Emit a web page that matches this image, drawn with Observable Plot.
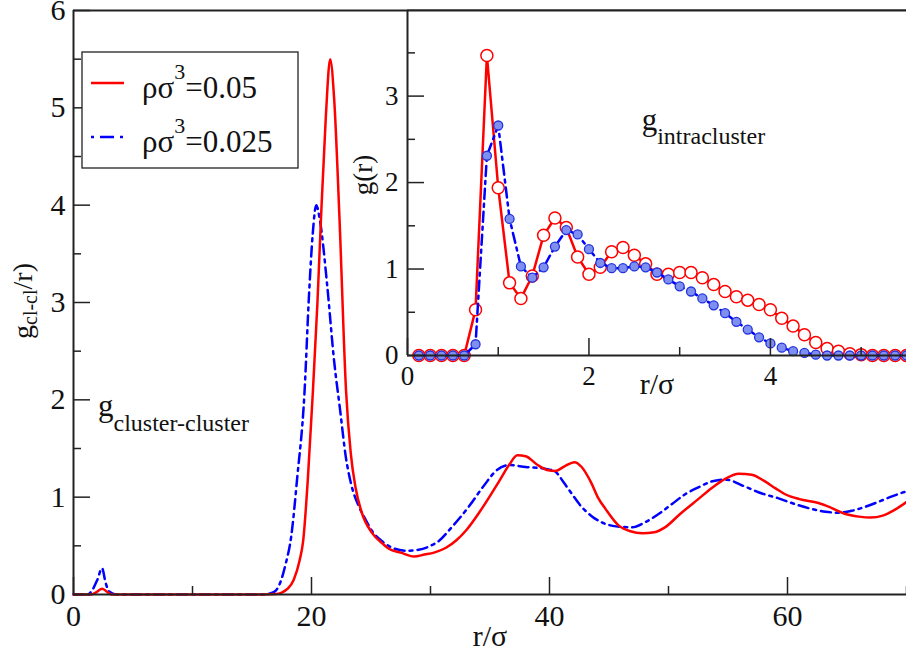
<!DOCTYPE html>
<html><head><meta charset="utf-8">
<script src="https://cdn.jsdelivr.net/npm/d3@7"></script>
<script src="https://cdn.jsdelivr.net/npm/@observablehq/plot@0.6"></script>
<style>
body{margin:0;background:#fff;}
#wrap{position:relative;width:906px;height:655px;overflow:hidden;}
#wrap svg{position:absolute;overflow:visible;}
#wrap svg text, #wrap svg tspan{font-family:'Liberation Serif','Tinos','Noto Serif','DejaVu Serif','FreeSerif','Times',serif !important;}
</style></head><body><div id="wrap"></div>
<script>
// ---- main panel: g_cl-cl / r ----
const redMainR = [0,1.5,2.0,2.4,2.8,3.2,16,17,17.5,18,18.5,19,19.3,19.7,20.1,20.5,20.8,21.2,21.57,21.9,22.35,22.9,23.3,23.7,24.2,25.1,26,26.5,27.5,28.6,29.5,30.3,31.3,32.2,33,34.3,35.8,36.6,37.3,38,39,39.8,40.5,41.3,42.1,42.7,43.5,44.1,44.7,45.8,46.8,47.8,48.8,49.7,51,52.5,53.7,54.8,55.9,57,58,59,59.8,61,62.6,63.5,64.8,66,67,68,69,70];
const redMainG = [0,0,0.03,0.06,0.03,0,0,0.005,0.02,0.06,0.15,0.35,0.55,1.2,2.05,3.0,3.87,4.9,5.5,5.1,3.87,2.1,1.45,1.1,0.85,0.63,0.52,0.47,0.43,0.39,0.41,0.43,0.48,0.56,0.66,0.88,1.17,1.33,1.43,1.42,1.33,1.28,1.27,1.32,1.36,1.31,1.15,0.99,0.88,0.71,0.65,0.63,0.64,0.69,0.83,0.98,1.1,1.19,1.24,1.23,1.17,1.09,1.03,0.98,0.94,0.9,0.83,0.8,0.79,0.81,0.87,0.95];
const blueMainR = [0,1.2,1.6,2.0,2.4,2.7,3.0,3.6,16,16.5,17,17.3,17.8,18.3,18.8,19.4,19.8,20.1,20.4,20.7,21.3,21.9,22.4,22.9,23.3,24.0,24.5,25.1,26,27,28,29,30,30.7,31.7,33.2,34.5,35.5,36.6,38,39.7,40.5,41.2,41.9,42.7,43.6,44.4,45.6,46.9,48,49.2,50.3,51.4,52.5,53.6,54.8,56.4,57.8,59.2,60.6,62,63.2,64.3,65.4,66.5,67.6,68.6,69.5,70];
const blueMainG = [0,0,0.05,0.15,0.27,0.12,0.03,0,0,0.01,0.04,0.1,0.3,0.6,1.2,2.05,3.1,3.7,4.0,3.85,3.2,2.4,1.9,1.4,1.15,0.9,0.78,0.65,0.54,0.47,0.45,0.46,0.5,0.55,0.68,0.9,1.12,1.27,1.33,1.31,1.29,1.26,1.15,1.03,0.9,0.8,0.74,0.7,0.69,0.74,0.83,0.93,1.03,1.1,1.16,1.18,1.11,1.04,0.99,0.93,0.88,0.85,0.84,0.86,0.9,0.95,1.0,1.04,1.06];
const mainXMajor = [0,20,40,60];
const mainXMinor = [10,30,50,70];
const mainYMajor = [0,1,2,3,4,5,6];
const mainYMinor = [0.5,1.5,2.5,3.5,4.5,5.5];

// ---- inset: g_intracluster ----
const insetR = [0.125,0.25,0.375,0.5,0.625,0.75,0.875,1.0,1.125,1.25,1.375,1.5,1.625,1.75,1.875,2.0,2.125,2.25,2.375,2.5,2.625,2.75,2.875,3.0,3.125,3.25,3.375,3.5,3.625,3.75,3.875,4.0,4.125,4.25,4.375,4.5,4.625,4.75,4.875,5.0,5.125,5.25,5.375,5.5];
const insetRed = [0,0,0,0,0,0.53,3.47,1.94,0.84,0.66,0.92,1.39,1.59,1.48,1.14,0.94,1.02,1.2,1.25,1.16,1.06,0.94,0.94,0.96,0.96,0.9,0.82,0.74,0.68,0.64,0.59,0.53,0.43,0.34,0.24,0.15,0.08,0.05,0.02,0.01,0,0,0,0];
const insetBlue = [0,0,0,0,0,0.13,2.31,2.66,1.58,1.03,0.9,1.02,1.26,1.45,1.4,1.23,1.07,1.01,1.01,1.03,1.02,0.96,0.88,0.8,0.74,0.66,0.58,0.49,0.39,0.3,0.21,0.14,0.09,0.05,0.03,0.01,0,0,0,0,0,0,0,0];
const insetXMajor = [0,2,4];
const insetXMinor = [1,3,5];
const insetYMajor = [0,1,2,3];
const insetYMinor = [0.5,1.5,2.5,3.5];

const RED = "#ff0000", BLUE = "#0000ff", DASHDOT = "10,5,3,5";
const rows = (xs, ys) => xs.map((r, i) => ({r, g: ys[i]}));
const FONT = "'Liberation Serif','Tinos','Noto Serif','DejaVu Serif','FreeSerif','Times',serif";
const fmt = d3.format("d");

const main = Plot.plot({
  width: 906, height: 655,
  marginLeft: 73, marginRight: 0, marginTop: 10, marginBottom: 61,
  style: {fontFamily: FONT, color: "#222", background: "transparent"},
  x: {domain: [0, 70], axis: null},
  y: {domain: [0, 6], axis: null},
  marks: [
    Plot.line(rows(blueMainR, blueMainG), {x: "r", y: "g", stroke: BLUE, strokeWidth: 2.5, strokeDasharray: DASHDOT, curve: "monotone-x"}),
    Plot.line(rows(redMainR, redMainG), {x: "r", y: "g", stroke: RED, strokeWidth: 2.5, curve: "monotone-x"}),
    Plot.ruleX([0], {stroke: "#222", strokeWidth: 2}),
    Plot.ruleY([0, 6], {stroke: "#222", strokeWidth: 2}),
    Plot.axisY(mainYMajor, {tickSize: -17, tickFormat: () => "", label: null, strokeWidth: 1.5}),
    Plot.axisY(mainYMinor, {tickSize: -8, tickFormat: () => "", label: null, strokeWidth: 1.5}),
    Plot.axisY(mainYMajor, {tickSize: 0, tickPadding: 8, fontSize: 30, label: null, fill: "#111", tickFormat: fmt}),
    Plot.axisX(mainXMajor, {tickSize: -17, tickFormat: () => "", label: null, strokeWidth: 1.5}),
    Plot.axisX(mainXMinor, {tickSize: -8, tickFormat: () => "", label: null, strokeWidth: 1.5}),
    Plot.axisX(mainXMajor, {tickSize: 0, tickPadding: 10, fontSize: 30, label: null, fill: "#111", tickFormat: fmt})
  ]
});
main.style.left = "0px"; main.style.top = "0px";

const inset = Plot.plot({
  width: 539, height: 395,
  marginLeft: 40, marginRight: 0, marginTop: 0, marginBottom: 50,
  style: {fontFamily: FONT, color: "#222", background: "transparent"},
  x: {domain: [0, 5.5], axis: null},
  y: {domain: [0, 3.99], axis: null},
  marks: [
    Plot.frame({fill: "white", stroke: "none"}),
    Plot.line(rows(insetR, insetRed), {x: "r", y: "g", stroke: RED, strokeWidth: 2.5}),
    Plot.dot(rows(insetR, insetRed), {x: "r", y: "g", r: 6, stroke: RED, fill: "white", strokeWidth: 1.5}),
    Plot.line(rows(insetR, insetBlue), {x: "r", y: "g", stroke: BLUE, strokeWidth: 2.5, strokeDasharray: DASHDOT}),
    Plot.dot(rows(insetR, insetBlue), {x: "r", y: "g", r: 4.5, stroke: "#2233dd", fill: "#7f8ff0", strokeWidth: 1.3}),
    Plot.ruleX([0], {stroke: "#222", strokeWidth: 2}),
    Plot.ruleY([0, 3.99], {stroke: "#222", strokeWidth: 2}),
    Plot.axisY(insetYMajor, {tickSize: -17, tickFormat: () => "", label: null, strokeWidth: 1.5}),
    Plot.axisY(insetYMinor, {tickSize: -8, tickFormat: () => "", label: null, strokeWidth: 1.5}),
    Plot.axisY(insetYMajor, {tickSize: 0, tickPadding: 9, fontSize: 27, label: null, fill: "#111", tickFormat: fmt}),
    Plot.axisX(insetXMajor, {tickSize: -17, tickFormat: () => "", label: null, strokeWidth: 1.5}),
    Plot.axisX(insetXMinor, {tickSize: -8, tickFormat: () => "", label: null, strokeWidth: 1.5}),
    Plot.axisX(insetXMajor, {tickSize: 0, tickPadding: 10, fontSize: 27, label: null, fill: "#111", tickFormat: fmt})
  ]
});
inset.style.left = "367px"; inset.style.top = "10px";

const wrap = document.getElementById("wrap");
wrap.appendChild(main);
wrap.appendChild(inset);

// ---- text annotations ----
const ms = d3.select(main), is = d3.select(inset);
function txt(sel, size) {
  return sel.append("text").attr("font-family", FONT).attr("font-size", size).attr("fill", "#111").attr("text-anchor", "start");
}
function subText(sel, x, y, base, sub, bs, ss, dy) {
  const t = txt(sel, bs).attr("x", x).attr("y", y);
  t.append("tspan").text(base);
  t.append("tspan").attr("font-size", ss).attr("dy", dy).text(sub);
  return t;
}
subText(ms, 98, 416, "g", "cluster-cluster", 31, 24, 15);
subText(is, 274.7, 120, "g", "intracluster", 31, 24, 14);

// main y label
const yl = txt(ms, 28).attr("transform", "translate(32,301) rotate(-90)").attr("text-anchor", "middle");
yl.append("tspan").text("g");
yl.append("tspan").attr("font-size", 20).attr("dy", 5).text("cl-cl");
yl.append("tspan").attr("dy", -5).text("/r)");
// main x label
txt(ms, 30).attr("x", 490).attr("y", 646).attr("text-anchor", "middle").text("r/σ");
// inset labels
txt(is, 27).attr("transform", "translate(5,165) rotate(-90)").attr("text-anchor", "middle").text("g(r)");
txt(is, 30).attr("x", 290).attr("y", 384).attr("text-anchor", "middle").text("r/σ");

// legend
const lg = ms.append("g");
lg.append("rect").attr("x", 82).attr("y", 52).attr("width", 216).attr("height", 116)
  .attr("fill", "white").attr("stroke", "#222").attr("stroke-width", 1.3);
lg.append("line").attr("x1", 91).attr("x2", 124).attr("y1", 83).attr("y2", 83).attr("stroke", RED).attr("stroke-width", 2.5);
lg.append("line").attr("x1", 91).attr("x2", 124).attr("y1", 137).attr("y2", 137).attr("stroke", BLUE).attr("stroke-width", 2.5)
  .attr("stroke-dasharray", "3,6,14,6");
const legendLabels = ["0.05", "0.025"];
legendLabels.forEach((v, i) => {
  const t = txt(lg, 31).attr("x", 142).attr("y", 98 + i * 54);
  t.append("tspan").text("ρσ");
  t.append("tspan").attr("font-size", 22).attr("dy", -19).text("3");
  t.append("tspan").attr("dy", 19).text("=" + v);
});
</script></body></html>
